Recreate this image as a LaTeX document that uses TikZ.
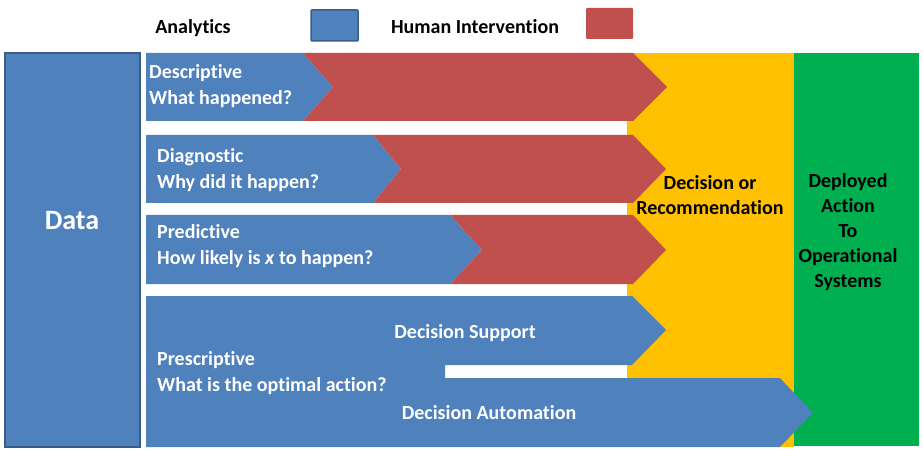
\documentclass[tikz,border=0pt]{standalone}
\usepackage{fontspec}
\setmainfont{Carlito}[Ligatures=NoCommon]
\definecolor{anablue}{HTML}{4F81BD}
\definecolor{anaedge}{HTML}{385D8A}
\definecolor{humred}{HTML}{C0504D}
\definecolor{decyellow}{HTML}{FFC000}
\definecolor{depgreen}{HTML}{00B050}
\begin{document}
\begin{tikzpicture}[x=1pt,y=-1pt,
    rowtext/.style={text=white,anchor=west,inner sep=0pt,align=left,
      font=\fontsize{20}{26}\selectfont\bfseries},
    midtext/.style={text=white,inner sep=0pt,font=\fontsize{20}{24}\selectfont\bfseries},
    coltext/.style={text=black,inner sep=0pt,align=center,
      font=\fontsize{20}{25}\selectfont\bfseries},
    legtext/.style={text=black,inner sep=0pt,font=\fontsize{20}{24}\selectfont\bfseries}]
  \useasboundingbox (0,0) rectangle (923,454);
  % legend
  \node[legtext] (analytics) at (193,28) {Analytics};
  \draw[anaedge,line width=1.5pt,fill=anablue,rounded corners=1pt] (311,10) rectangle (358,41);
  \node[legtext] (human) at (475,27) {Human Intervention};
  \fill[humred,rounded corners=1pt] (586,8) rectangle (633,39);
  % columns
  \fill[decyellow] (627,53) rectangle (794,447);
  \fill[depgreen] (794,53) rectangle (919,446);
  \draw[anaedge,line width=1.5pt,fill=anablue] (5,53) rectangle (140,447);
  \node[text=white,font=\fontsize{28}{32}\selectfont\bfseries] (data) at (72,221) {Data};
  % descriptive
  \fill[anablue] (146,53) -- (303,53) -- (333,87) -- (303,121) -- (146,121) -- cycle;
  \fill[humred] (303,53) -- (633,53) -- (667,87) -- (633,121) -- (303,121) -- (333,87) -- cycle;
  \node[rowtext] (descr) at (149,86) {Descriptive\\What happened?};
  % diagnostic
  \fill[anablue] (146,135) -- (373,135) -- (401,169) -- (373,203) -- (146,203) -- cycle;
  \fill[humred] (373,135) -- (633,135) -- (666,169) -- (633,203) -- (373,203) -- (401,169) -- cycle;
  \node[rowtext] (diagn) at (157,170) {Diagnostic\\Why did it happen?};
  % predictive
  \fill[anablue] (146,215) -- (450,215) -- (482,250) -- (450,284) -- (146,284) -- cycle;
  \fill[humred] (450,215) -- (633,215) -- (666,250) -- (633,284) -- (450,284) -- (482,250) -- cycle;
  \node[rowtext] (predi) at (157,246) {Predictive\\How likely is \textit{x} to happen?};
  % prescriptive
  \fill[anablue] (146,296) -- (632,296) -- (666,330) -- (632,365) -- (445,365) -- (445,378)
    -- (780,378) -- (813,413) -- (780,447) -- (146,447) -- cycle;
  \node[midtext] (support) at (465,333) {Decision Support};
  \node[rowtext] (presc) at (157,373) {Prescriptive\\What is the optimal action?};
  \node[midtext] (auto) at (489,413) {Decision Automation};
  % outcome columns
  \node[coltext] (decision) at (710,195) {Decision or\\Recommendation};
  \node[coltext] (deployed) at (848,232) {Deployed\\Action\\To\\Operational\\Systems};
\end{tikzpicture}
\end{document}
